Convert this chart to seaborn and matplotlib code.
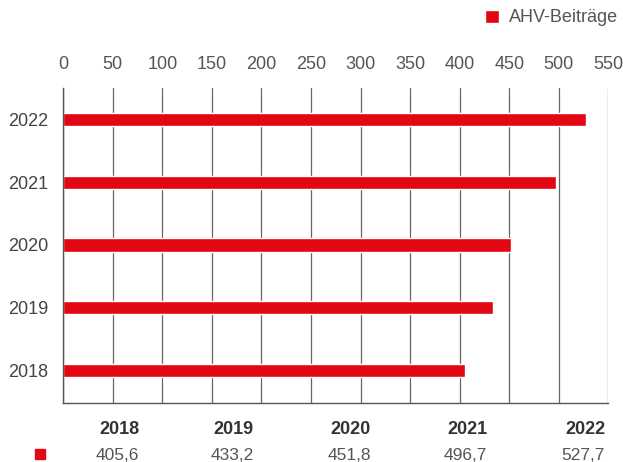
import matplotlib
matplotlib.use('Agg')
import matplotlib.pyplot as plt
import seaborn as sns
import pandas as pd

years = ['2018', '2019', '2020', '2021', '2022']
values = [405.6, 433.2, 451.8, 496.7, 527.7]
value_labels = ['405,6', '433,2', '451,8', '496,7', '527,7']
series_name = 'AHV-Beiträge'
x_ticks = list(range(0, 551, 50))

red = '#E30613'
grey = '#555555'

sns.set_style('white')
plt.rcParams['font.family'] = ['Liberation Sans', 'DejaVu Sans']

df = pd.DataFrame({'Jahr': years, 'Wert': values})

fig = plt.figure(figsize=(6.23, 4.62), dpi=100)
ax = fig.add_axes([0.1015, 0.1275, 0.875, 0.682])

sns.barplot(data=df, x='Wert', y='Jahr', order=years[::-1], color=red,
            width=0.21, saturation=1, label=series_name, ax=ax)

ax.set_xlim(0, 550)
ax.set_ylim(4.52, -0.5)
ax.set_xticks(x_ticks)
ax.xaxis.tick_top()
ax.tick_params(axis='x', length=0, pad=10.5, labelsize=13, labelcolor=grey)
ax.tick_params(axis='y', length=0, pad=11, labelsize=13, labelcolor='#444444')
ax.set_xlabel('')
ax.set_ylabel('')
ax.grid(axis='x', color='#666666', linewidth=0.9)
ax.set_axisbelow(True)
for side in ['top', 'right']:
    ax.spines[side].set_visible(False)
for side in ['left', 'bottom']:
    ax.spines[side].set_color('#555555')
    ax.spines[side].set_linewidth(1.0)

leg = ax.legend(loc='center right', bbox_to_anchor=(1.017, 1 + (88 - 18) / 315),
                frameon=False, handlelength=0.75, handleheight=0.75,
                handletextpad=0.55, borderaxespad=0, borderpad=0,
                fontsize=13, labelcolor=grey)

# table under the chart
col_right = [139.5, 254, 371, 487, 605]
for xr, yr, lab in zip(col_right, years, value_labels):
    fig.text(xr / 623, 1 - 429.5 / 462, yr, ha='right', va='center',
             fontsize=13, fontweight='bold', color='#333333')
    fig.text(xr / 623, 1 - 455 / 462, lab, ha='right', va='center',
             fontsize=12.5, color=grey)
fig.patches.append(plt.Rectangle((35 / 623, 1 - 459 / 462), 10 / 623, 10 / 462,
                                 transform=fig.transFigure, color=red))

fig.savefig('out.png', dpi=100)
